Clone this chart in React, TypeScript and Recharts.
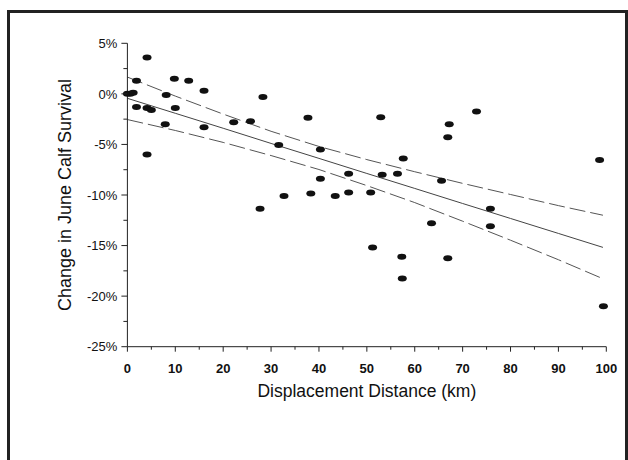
import React from "react";
import { ComposedChart, Line, Scatter, XAxis, YAxis, Label } from "recharts";

// observed points: displacement (km) vs change in June calf survival (%)
const distanceKm = [
  0, 0.6, 1.2, 1.9, 1.9, 4.1, 4.1, 5.0, 4.1, 8.1, 7.9, 9.8, 10.0, 12.8, 16.0, 16.0,
  22.2, 25.7, 28.3, 27.7, 31.6, 32.7, 37.7, 38.3, 40.3, 40.3, 43.4, 46.2, 46.2, 50.8,
  51.2, 52.9, 53.2, 56.4, 57.6, 57.3, 57.4, 63.5, 65.6, 66.9, 67.2, 66.9, 72.9, 75.8,
  75.8, 98.6, 99.4,
];
const survivalChange = [
  0.0, 0.0, 0.1, 1.3, -1.3, 3.6, -1.4, -1.6, -6.0, -0.1, -3.0, 1.5, -1.4, 1.3, 0.3, -3.3,
  -2.8, -2.7, -0.3, -11.35, -5.05, -10.1, -2.35, -9.85, -5.5, -8.4, -10.1, -7.9, -9.75, -9.75,
  -15.2, -2.3, -8.0, -7.9, -6.4, -16.1, -18.25, -12.8, -8.6, -4.3, -3.0, -16.25, -1.75, -11.35,
  -13.1, -6.55, -21.0,
];

// fitted line and confidence band
const fitX = [0, 10, 20, 30, 40, 50, 60, 70, 80, 90, 99.3];
const fitMid = [-0.44, -1.92, -3.4, -4.9, -6.38, -7.87, -9.35, -10.84, -12.32, -13.8, -15.18];
const fitUpper = [1.66, -0.22, -2.0, -3.7, -5.2, -6.5, -7.7, -8.85, -9.95, -11.05, -12.0];
const fitLower = [-2.54, -3.62, -4.8, -6.1, -7.48, -9.07, -10.75, -12.59, -14.47, -16.4, -18.28];

const xTicks = [0, 5, 10, 15, 20, 25, 30, 35, 40, 45, 50, 55, 60, 65, 70, 75, 80, 85, 90, 95, 100];
const yTicks = [5, 2.5, 0, -2.5, -5, -7.5, -10, -12.5, -15, -17.5, -20, -22.5, -25];

const points = distanceKm.map((x, i) => ({ x, y: survivalChange[i] }));
const mid = fitX.map((x, i) => ({ x, y: fitMid[i] }));
const upper = fitX.map((x, i) => ({ x, y: fitUpper[i] }));
const lower = fitX.map((x, i) => ({ x, y: fitLower[i] }));

const FONT = "'Liberation Sans', Arial, sans-serif";
const INK = "#222";

function XTick({ x, y, payload }: any) {
  const major = payload.value % 10 === 0;
  return (
    <g>
      <line x1={x} x2={x} y1={y} y2={y + (major ? 5 : 3)} stroke={INK} strokeWidth={1} />
      {major && (
        <text x={x} y={y + 26} textAnchor="middle" fontSize={13} fontWeight="bold" fill="#111" fontFamily={FONT}>
          {payload.value}
        </text>
      )}
    </g>
  );
}

function YTick({ x, y, payload }: any) {
  const major = payload.value % 5 === 0;
  return (
    <g>
      <line x1={x} x2={x - (major ? 6 : 4)} y1={y} y2={y} stroke={INK} strokeWidth={1} />
      {major && (
        <text x={x - 10} y={y} dy="0.36em" textAnchor="end" fontSize={13} fill="#111" fontFamily={FONT}>
          {`${payload.value}%`}
        </text>
      )}
    </g>
  );
}

function Dot(props: any) {
  return <ellipse cx={props.cx} cy={props.cy} rx={4.5} ry={3} fill="#111" />;
}

export default function App() {
  return (
    <div style={{ position: "absolute", left: 0, top: 0, width: 628, height: 460, overflow: "hidden", background: "#fff" }}>
      <div
        style={{
          position: "absolute",
          left: 7,
          top: 10,
          width: 621,
          height: 450,
          boxSizing: "border-box",
          borderLeft: "3px solid #222",
          borderTop: "3px solid #222",
          borderRight: "3px solid #222",
        }}
      />
      <ComposedChart
        width={628}
        height={460}
        margin={{ top: 43.3, right: 21.7, bottom: 73.3, left: 67.4 }}
        style={{ position: "absolute", left: 0, top: 0 }}
      >
        <XAxis
          type="number"
          dataKey="x"
          domain={[0, 100]}
          ticks={xTicks}
          interval={0}
          height={40}
          tickSize={0}
          tickMargin={0}
          tickLine={false}
          tick={<XTick />}
          axisLine={{ stroke: INK, strokeWidth: 1 }}
        >
          <Label
            content={({ viewBox }: any) => (
              <text
                x={viewBox.x + viewBox.width / 2}
                y={viewBox.y + 50}
                textAnchor="middle"
                fontSize={17.5}
                fill="#111"
                fontFamily={FONT}
              >
                Displacement Distance (km)
              </text>
            )}
          />
        </XAxis>
        <YAxis
          type="number"
          dataKey="y"
          domain={[-25, 5]}
          ticks={yTicks}
          interval={0}
          width={60}
          tickSize={0}
          tickMargin={0}
          tickLine={false}
          tick={<YTick />}
          axisLine={{ stroke: INK, strokeWidth: 1 }}
        >
          <Label
            content={({ viewBox }: any) => {
              const cx = viewBox.x + 3.6;
              const cy = viewBox.y + viewBox.height / 2;
              return (
                <text
                  x={cx}
                  y={cy}
                  transform={`rotate(-90 ${cx} ${cy})`}
                  textAnchor="middle"
                  fontSize={18}
                  fill="#111"
                  fontFamily={FONT}
                >
                  Change in June Calf Survival
                </text>
              );
            }}
          />
        </YAxis>
        <Line data={upper} dataKey="y" type="linear" stroke="#555" strokeWidth={1} strokeDasharray="16 5" dot={false} isAnimationActive={false} />
        <Line data={mid} dataKey="y" type="linear" stroke="#444" strokeWidth={1} dot={false} isAnimationActive={false} />
        <Line data={lower} dataKey="y" type="linear" stroke="#555" strokeWidth={1} strokeDasharray="16 5" dot={false} isAnimationActive={false} />
        <Scatter data={points} dataKey="y" shape={<Dot />} isAnimationActive={false} />
      </ComposedChart>
    </div>
  );
}
